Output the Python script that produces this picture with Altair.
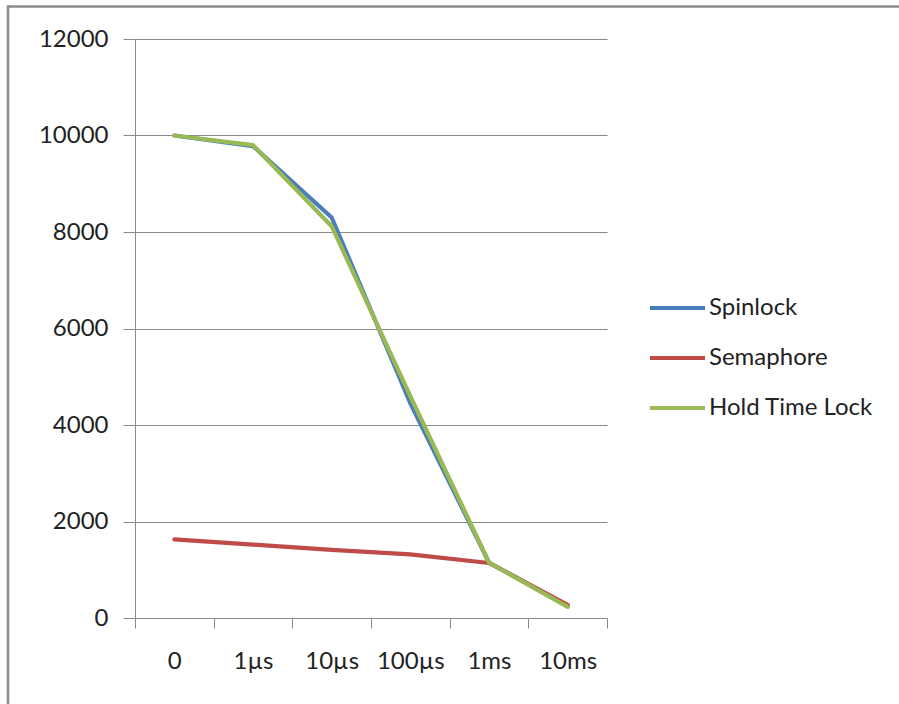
import json
import altair as alt
import pandas as pd

categories = ["0", "1µs", "10µs", "100µs", "1ms", "10ms"]
series_names = ["Spinlock", "Semaphore", "Hold Time Lock"]
spinlock = [10000, 9780, 8300, 4450, 1150, 250]
semaphore = [1630, 1520, 1410, 1320, 1140, 270]
hold_time_lock = [10000, 9800, 8120, 4600, 1150, 230]
colors = ["#4A7EBB", "#BE4B48", "#98B954"]
y_ticks = [0, 2000, 4000, 6000, 8000, 10000, 12000]

rows = []
for name, vals in zip(series_names, [spinlock, semaphore, hold_time_lock]):
    for i, (c, v) in enumerate(zip(categories, vals)):
        rows.append({"series": name, "idx": i, "cat": c, "value": v})
df = pd.DataFrame(rows)

FONT = "Lato"
GRAY = "#8a8a8a"
n = len(categories)
tick_vals = [i - 0.5 for i in range(n + 1)]
label_expr = "datum.value + 0.5 < %d ? %s[datum.value + 0.5] : ''" % (n, json.dumps(categories, ensure_ascii=False))

lines = alt.Chart(df).mark_line(strokeWidth=4.2, strokeJoin="round", strokeCap="round").encode(
    x=alt.X("idx:Q",
            scale=alt.Scale(domain=[-0.5, n - 0.5], nice=False, zero=False),
            axis=alt.Axis(values=tick_vals, labelExpr=label_expr, title=None, grid=False,
                          tickSize=10, tickColor=GRAY, domainColor=GRAY, labelOffset=39.3,
                          labelFont=FONT, labelFontSize=24, labelColor="#222222",
                          labelPadding=21, labelAlign="center", labelFlush=False,
                          labelOverlap=False)),
    y=alt.Y("value:Q",
            scale=alt.Scale(domain=[0, 12000], nice=False),
            axis=alt.Axis(values=y_ticks, format="d", title=None, grid=True, gridColor=GRAY, gridWidth=1.2,
                          tickSize=12, tickColor=GRAY, domainColor=GRAY,
                          labelFont=FONT, labelFontSize=24, labelColor="#222222",
                          labelPadding=15, labelFlush=False)),
    color=alt.Color("series:N",
                    scale=alt.Scale(domain=series_names, range=colors),
                    sort=series_names,
                    legend=alt.Legend(title=None, orient="none", legendX=515.5, legendY=242,
                                      symbolType="M-1.1,0H1.1", symbolSize=2500,
                                      symbolStrokeWidth=4, labelOffset=4.5, padding=0,
                                      rowPadding=11, labelFont=FONT, labelFontSize=24,
                                      labelColor="#222222", labelLimit=300)),
    order=alt.Order("idx:Q"),
)

frame = alt.Chart(pd.DataFrame({"k": [0]})).mark_rect(fill=None, stroke="#8c8c8c", strokeWidth=2.5).encode(
    x=alt.value(-127), x2=alt.value(900), y=alt.value(-32.5), y2=alt.value(800)
)

chart = alt.layer(frame, lines).properties(
    width=472, height=579,
    autosize=alt.AutoSizeParams(type="none"),
    padding={"left": 135, "top": 39, "right": 292, "bottom": 86},
    background="white",
).configure_view(stroke=None)

chart.save("out.html", embed_options={"renderer": "svg", "actions": False})
